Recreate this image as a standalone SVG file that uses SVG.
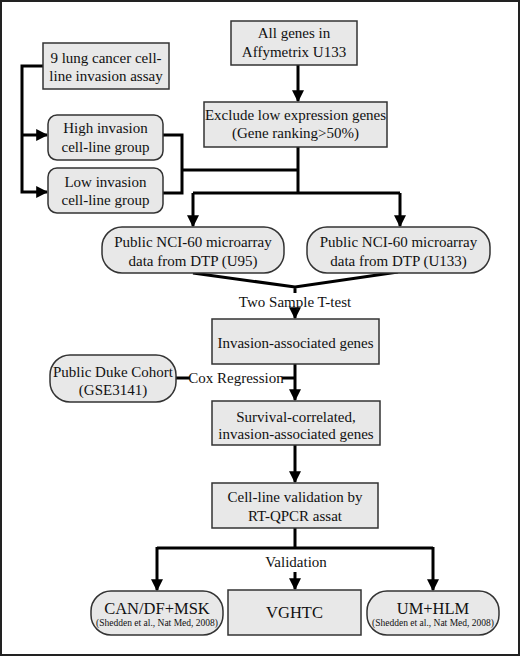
<svg xmlns="http://www.w3.org/2000/svg" width="520" height="656" viewBox="0 0 520 656">
<defs>
<style>
.box{fill:#e8e8e8;stroke:#333;stroke-width:1.5}
.t{font-family:'Liberation Serif','Times New Roman','DejaVu Serif',serif;font-size:15px;fill:#111;text-anchor:middle}
.big{font-size:16.5px}
.sm{font-size:9.5px}
.c{fill:none;stroke:#000;stroke-width:3}
</style>
<marker id="ah" markerUnits="userSpaceOnUse" markerWidth="12" markerHeight="12" viewBox="0 0 10 10" refX="9" refY="5" orient="auto">
<path d="M0,0 L10,5 L0,10 z" fill="#000"/>
</marker>
</defs>
<rect x="0" y="0" width="520" height="656" fill="#fff"/>
<rect x="1" y="1" width="518" height="654" fill="none" stroke="#222" stroke-width="2"/>

<g id="connectors">
<path class="c" d="M298 65 V101" marker-end="url(#ah)"/>
<path class="c" d="M298 147 V193 M193 193 H400 M182 170 H298"/>
<path class="c" d="M193 193 V226" marker-end="url(#ah)"/>
<path class="c" d="M400 193 V226" marker-end="url(#ah)"/>
<path class="c" d="M163 135 H182 V193 H163"/>
<path class="c" d="M43 66 H22 V192 H47" marker-end="url(#ah)"/>
<path class="c" d="M22 135 H47" marker-end="url(#ah)"/>
<path class="c" stroke-width="2.5" d="M193 273 L295 287 L398 272 M295 287 V293"/>
<path class="c" d="M295 309 V318" marker-end="url(#ah)"/>
<path class="c" d="M176 378 H190 M282 378 H295"/>
<path class="c" d="M295 364 V400" marker-end="url(#ah)"/>
<path class="c" d="M295 445 V482" marker-end="url(#ah)"/>
<path class="c" d="M295 528 V548 M157 548 H433"/>
<path class="c" d="M157 547 V590" marker-end="url(#ah)"/>
<path class="c" d="M433 547 V590" marker-end="url(#ah)"/>
<path class="c" d="M295 572 V589" marker-end="url(#ah)"/>
<text class="t" x="295" y="307" font-family="Liberation Serif, serif">Two Sample T-test</text>
<text class="t" x="236" y="383" font-family="Liberation Serif, serif">Cox Regression</text>
<text class="t" x="296" y="567" font-family="Liberation Serif, serif">Validation</text>
</g>

<g id="allgenes">
<rect class="box" x="231" y="21" width="126" height="44"/>
<text class="t" x="294" y="38">All genes in</text>
<text class="t" x="294" y="57">Affymetrix U133</text>
</g>
<g id="exclude">
<rect class="box" x="204" y="102" width="183" height="45"/>
<text class="t" x="295.5" y="120">Exclude low expression genes</text>
<text class="t" x="295.5" y="138">(Gene ranking&gt;50%)</text>
</g>
<g id="lung">
<rect class="box" x="43" y="43" width="126" height="46"/>
<text class="t" x="106" y="63">9 lung cancer cell-</text>
<text class="t" x="106" y="81">line invasion assay</text>
</g>
<g id="high">
<rect class="box" x="48" y="115" width="115" height="45" rx="9"/>
<text class="t" x="105.5" y="133">High invasion</text>
<text class="t" x="105.5" y="152">cell-line group</text>
</g>
<g id="low">
<rect class="box" x="48" y="168" width="115" height="45" rx="9"/>
<text class="t" x="105.5" y="187">Low invasion</text>
<text class="t" x="105.5" y="205">cell-line group</text>
</g>
<g id="nci95">
<rect class="box" x="102" y="227" width="182" height="46" rx="20"/>
<text class="t" x="193" y="247">Public NCI-60 microarray</text>
<text class="t" x="193" y="266">data from DTP (U95)</text>
</g>
<g id="nci133">
<rect class="box" x="307" y="227" width="183" height="46" rx="20"/>
<text class="t" x="398.5" y="247">Public NCI-60 microarray</text>
<text class="t" x="398.5" y="266">data from DTP (U133)</text>
</g>
<g id="invasion">
<rect class="box" x="212" y="319" width="167" height="45"/>
<text class="t" x="295.5" y="348">Invasion-associated genes</text>
</g>
<g id="duke">
<rect class="box" x="50" y="355" width="126" height="47" rx="20"/>
<text class="t" x="113" y="377">Public Duke Cohort</text>
<text class="t" x="113" y="395">(GSE3141)</text>
</g>
<g id="survival">
<rect class="box" x="212" y="401" width="168" height="44"/>
<text class="t" x="296" y="422">Survival-correlated,</text>
<text class="t" x="296" y="439">invasion-associated genes</text>
</g>
<g id="cellline">
<rect class="box" x="212" y="483" width="166" height="45"/>
<text class="t" x="295" y="502">Cell-line validation by</text>
<text class="t" x="295" y="521">RT-QPCR assat</text>
</g>
<g id="candf">
<rect class="box" x="91" y="591" width="132" height="44" rx="20"/>
<text class="t big" x="157" y="614">CAN/DF+MSK</text>
<text class="t sm" x="157" y="626" textLength="122" lengthAdjust="spacingAndGlyphs">(Shedden et al., Nat Med, 2008)</text>
</g>
<g id="vghtc">
<rect class="box" x="228" y="590" width="133" height="45"/>
<text class="t big" x="294.5" y="618">VGHTC</text>
</g>
<g id="umhlm">
<rect class="box" x="367" y="591" width="132" height="44" rx="20"/>
<text class="t big" x="433" y="614">UM+HLM</text>
<text class="t sm" x="433" y="626" textLength="122" lengthAdjust="spacingAndGlyphs">(Shedden et al., Nat Med, 2008)</text>
</g>
</svg>
